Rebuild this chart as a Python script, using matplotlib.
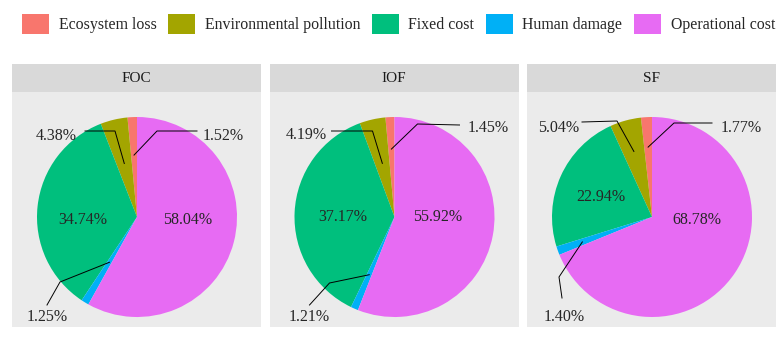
import numpy as np
import matplotlib.pyplot as plt
from matplotlib.patches import Patch

plt.rcParams['font.family'] = ['Liberation Serif', 'DejaVu Serif']

# dados
categorias = ['Ecosystem loss', 'Environmental pollution', 'Fixed cost',
              'Human damage', 'Operational cost']
cores = ['#F8766D', '#A3A500', '#00BF7D', '#00B0F6', '#E76BF3']
paineis = ['FOC', 'IOF', 'SF']
foc = [1.52, 4.38, 34.74, 1.25, 58.04]
iof = [1.45, 4.19, 37.17, 1.21, 55.92]
sf = [1.77, 5.04, 22.94, 1.40, 68.78]
valores = [foc, iof, sf]

# posicoes dos rotulos (unidades do raio da pizza)
# rotulos de fora: indice da fatia -> (texto x, texto y, ha, inicio da linha, cotovelo, raio da ancora)
rotulos_fora = [
    {0: (0.66, 0.81, 'left', (0.60, 0.86), (0.20, 0.86), 0.62),
     1: (-0.60, 0.81, 'right', (-0.52, 0.86), (-0.22, 0.86), 0.55),
     3: (-0.90, -1.00, 'center', (-0.90, -0.88), (-0.77, -0.65), 0.53)},
    {0: (0.73, 0.89, 'left', (0.65, 0.92), (0.23, 0.93), 0.68),
     1: (-0.68, 0.82, 'right', (-0.63, 0.86), (-0.22, 0.86), 0.55),
     3: (-0.85, -1.00, 'center', (-0.85, -0.88), (-0.65, -0.66), 0.63)},
    {0: (0.69, 0.89, 'left', (0.60, 0.94), (0.22, 0.94), 0.70),
     1: (-0.73, 0.89, 'right', (-0.70, 0.95), (-0.35, 0.96), 0.68),
     3: (-0.88, -1.00, 'center', (-0.90, -0.81), (-0.93, -0.60), 0.74)},
]
rotulos_dentro = [
    {2: (-0.54, -0.03), 4: (0.51, -0.03)},
    {2: (-0.52, 0.00), 4: (0.43, 0.00)},
    {2: (-0.51, 0.20), 4: (0.45, -0.03)},
]

W, H = 780, 337
fig = plt.figure(figsize=(W / 100, H / 100), dpi=100)

lefts = [12, 269.5, 527]
pw = 249
ptop, pbot = 92, 327
strip_top = 64
cor_texto = '#262626'

for k, nome in enumerate(paineis):
    ax = fig.add_axes([lefts[k] / W, (H - pbot) / H, pw / W, (pbot - ptop) / H])
    vals = np.array(valores[k])
    wedges, _ = ax.pie(vals, colors=cores, startangle=90, counterclock=True,
                       wedgeprops=dict(linewidth=0))
    ax.set_aspect('auto')
    ax.set_xlim(-1.25, 1.24)
    ax.set_ylim(-1.10, 1.25)
    ax.set_frame_on(True)
    for s in ax.spines.values():
        s.set_visible(False)
    ax.set_facecolor('#EBEBEB')
    ax.set_xticks([])
    ax.set_yticks([])

    # angulo do meio de cada fatia
    cum = np.cumsum(vals) - vals / 2
    angs = np.deg2rad(90 + cum / vals.sum() * 360)

    for i, (tx, ty, ha, ini, cot, r) in rotulos_fora[k].items():
        ancora = (r * np.cos(angs[i]), r * np.sin(angs[i]))
        ax.plot([ini[0], cot[0], ancora[0]], [ini[1], cot[1], ancora[1]],
                color='black', lw=0.7)
        ax.text(tx, ty, f'{vals[i]:.2f}%', ha=ha, va='center',
                fontsize=11.5, color=cor_texto)
    for i, (tx, ty) in rotulos_dentro[k].items():
        ax.text(tx, ty, f'{vals[i]:.2f}%', ha='center', va='center',
                fontsize=11.5, color=cor_texto)

    # faixa do titulo
    sax = fig.add_axes([lefts[k] / W, (H - ptop) / H, pw / W, (ptop - strip_top) / H])
    sax.set_facecolor('#D9D9D9')
    sax.set_xticks([])
    sax.set_yticks([])
    for s in sax.spines.values():
        s.set_visible(False)
    sax.text(0.5, 0.5, nome, ha='center', va='center', fontsize=11,
             color='#1A1A1A', transform=sax.transAxes)

handles = [Patch(facecolor=c, edgecolor='none') for c in cores]
fig.legend(handles, categorias, loc='center left', ncol=5,
           bbox_to_anchor=(22 / W, 1 - 24 / H), frameon=False,
           fontsize=11.4, handlelength=1.7, handleheight=1.65,
           handletextpad=0.62, columnspacing=0.72, borderpad=0,
           borderaxespad=0, labelcolor='#262626')

fig.savefig('out.png', dpi=100)
